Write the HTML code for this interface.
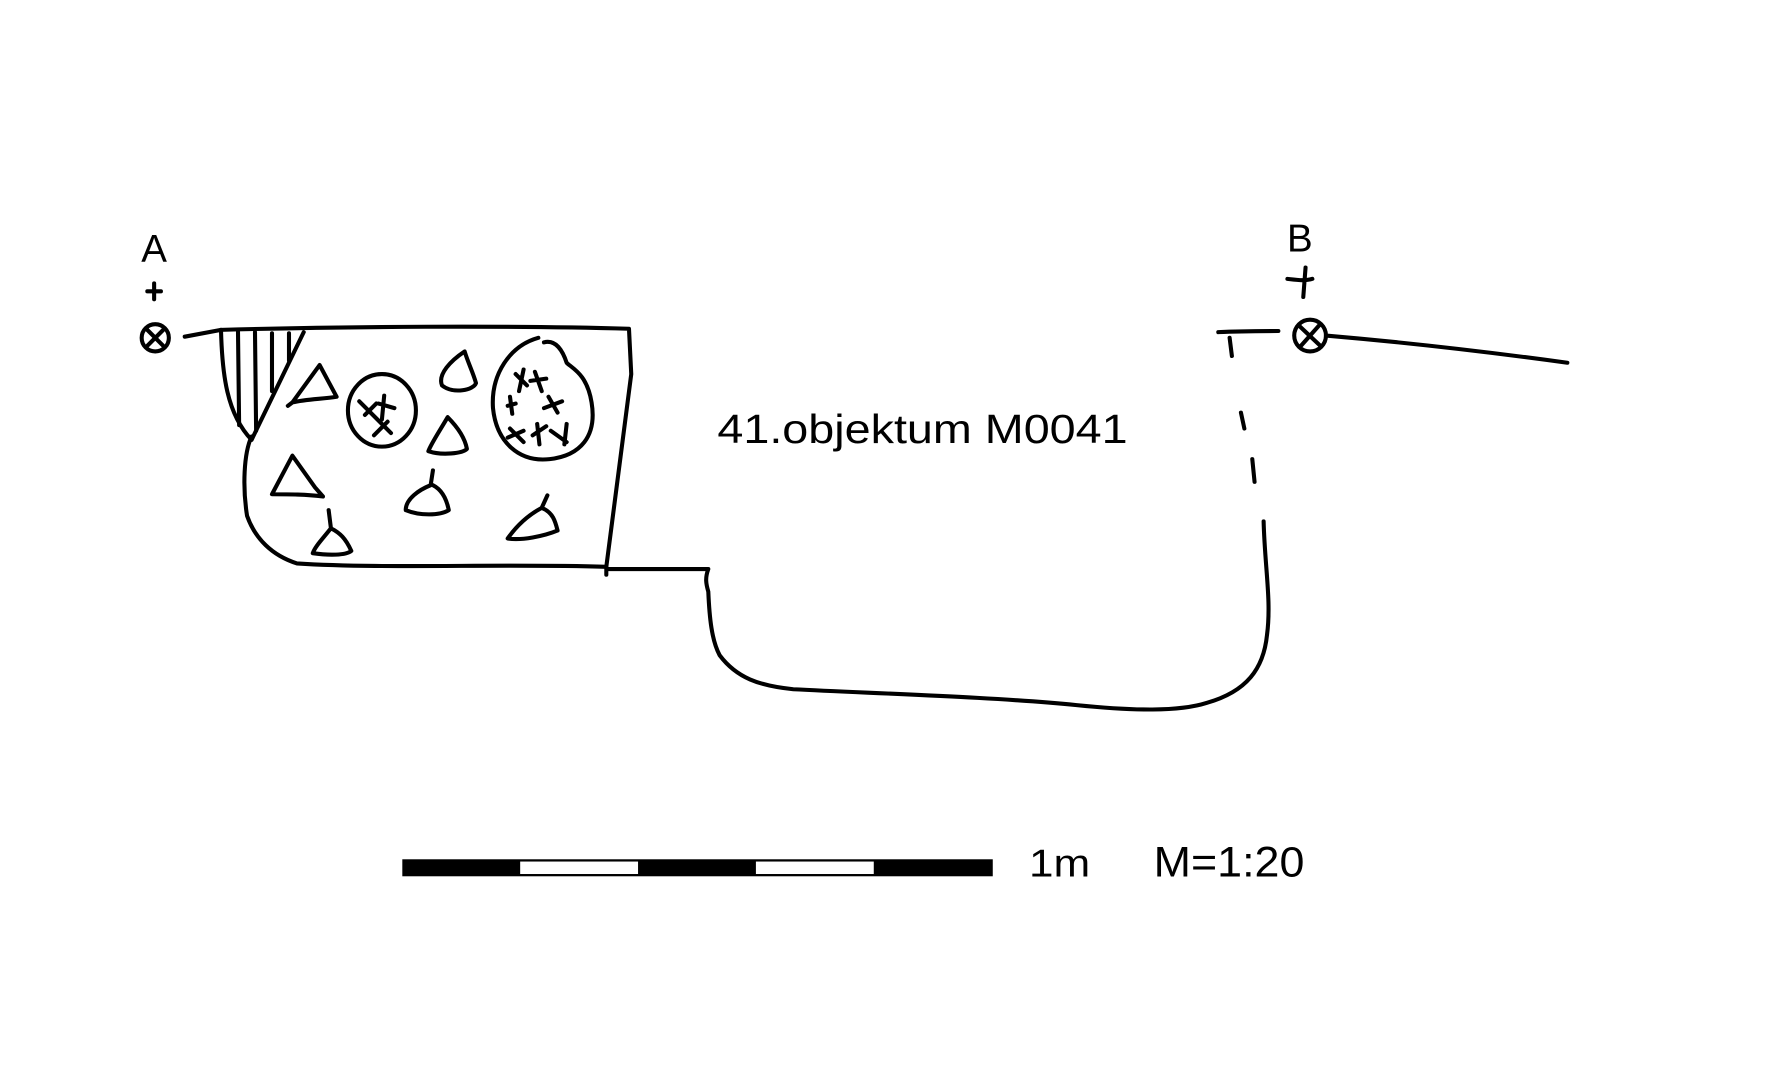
<!DOCTYPE html>
<html><head><meta charset="utf-8"><style>
html,body{margin:0;padding:0;background:#fff;}
svg{display:block;}
text{font-family:"Liberation Sans",sans-serif;fill:#000;}
</style></head><body>
<svg width="1777" height="1069" viewBox="0 0 1568 943" preserveAspectRatio="none" xmlns="http://www.w3.org/2000/svg">
<g fill="none" stroke="#000" stroke-width="3.6" stroke-linecap="round" stroke-linejoin="round">
<!-- A marker -->
<path d="M136 250 V264 M130 257 H142"/>
<circle cx="137" cy="298" r="12"/>
<path d="M129 290 L145 306 M145 290 L129 306"/>
<path d="M163 297 L195 291"/>
<!-- main box -->
<path d="M195 291 C300 288 450 287 555 290 L557 330 L535 500 C440 497 340 502 262 497 C240 490 225 475 218 455 C214 430 215 400 222 385"/>
<!-- hatched -->
<path d="M195 291 C196 330 200 365 222 388 L268 293"/>
<path d="M210 292 L211 375 M225 293 L226 380 M240 294 L240 345 M255 294 L255 318"/>
<!-- shapes -->
<path d="M258 355 L282 322 L297 350 C285 352 270 352 258 355 Z M254 358 L258 355"/>
<ellipse cx="337" cy="362" rx="30" ry="32"/>
<path d="M317 354 L345 382 M322 366 L332 356 M339 349 L337 370 M334 356 L348 360 M330 384 L342 372"/>
<path d="M410 310 C398 318 386 330 390 340 C400 348 418 344 420 338 C418 330 413 320 410 310 Z"/>
<path d="M395 368 C388 380 380 392 378 398 C390 402 408 400 412 396 C410 385 402 375 395 368 Z"/>
<path d="M475 298 C450 305 433 330 435 360 C438 390 458 408 485 405 C512 402 527 385 522 355 C518 330 505 325 500 320 C495 305 488 300 480 302"/>
<path d="M455 330 L465 340 M462 326 L458 345 M472 328 L478 345 M468 336 L482 334 M455 356 L448 358 M450 350 L452 365 M484 350 L492 364 M480 360 L496 354 M450 378 L462 390 M448 386 L462 380 M470 384 L482 376 M474 374 L476 392 M486 380 L500 390 M500 374 L498 392"/>
<path d="M258 402 L240 436 C255 436 270 436 285 438 L278 430 L258 402 Z"/>
<path d="M382 415 L380 428 C370 432 358 440 358 450 C370 455 388 455 396 450 C394 440 390 432 382 428"/>
<path d="M290 450 L292 466 C285 475 278 482 276 488 C290 490 305 490 310 486 C305 475 300 470 292 466"/>
<path d="M483 437 L478 448 C465 455 455 465 448 475 C460 477 480 473 492 468 C490 460 488 452 478 448"/>
<!-- step & pit -->
<path d="M535 500 L535 507 M535 502 L625 502 C622 510 623 515 625 522 C626 545 628 565 635 578 C650 598 670 605 700 608 C780 612 880 615 950 622 C1000 627 1040 628 1065 620 C1100 610 1115 590 1118 560 C1122 530 1116 500 1115 460"/>
<!-- B marker -->
<path d="M1075 293 C1095 292 1110 292 1128 292 M1085 298 L1087 314 M1095 364 L1098 378 M1105 405 L1107 425"/>
<path d="M1152 236 L1150 262 M1136 246 C1145 247 1152 248 1158 246"/>
<circle cx="1156" cy="296" r="14"/>
<path d="M1147 288 L1165 305 M1164 287 L1148 305"/>
<path d="M1170 296 C1240 302 1310 310 1383 320"/>
</g>
<text x="136" y="231" font-size="34" text-anchor="middle">A</text>
<text x="1147" y="222" font-size="34" text-anchor="middle">B</text>
<text x="633" y="391" font-size="36" textLength="362" lengthAdjust="spacingAndGlyphs">41.objektum M0041</text>
<!-- scale bar -->
<rect x="355" y="758" width="521" height="15" fill="#000"/>
<rect x="459" y="760" width="104" height="11" fill="#fff"/>
<rect x="667" y="760" width="104" height="11" fill="#fff"/>
<text x="908" y="773" font-size="34" textLength="54" lengthAdjust="spacingAndGlyphs">1m</text>
<text x="1018" y="773" font-size="38" textLength="133" lengthAdjust="spacingAndGlyphs">M=1:20</text>
</svg>
</body></html>
